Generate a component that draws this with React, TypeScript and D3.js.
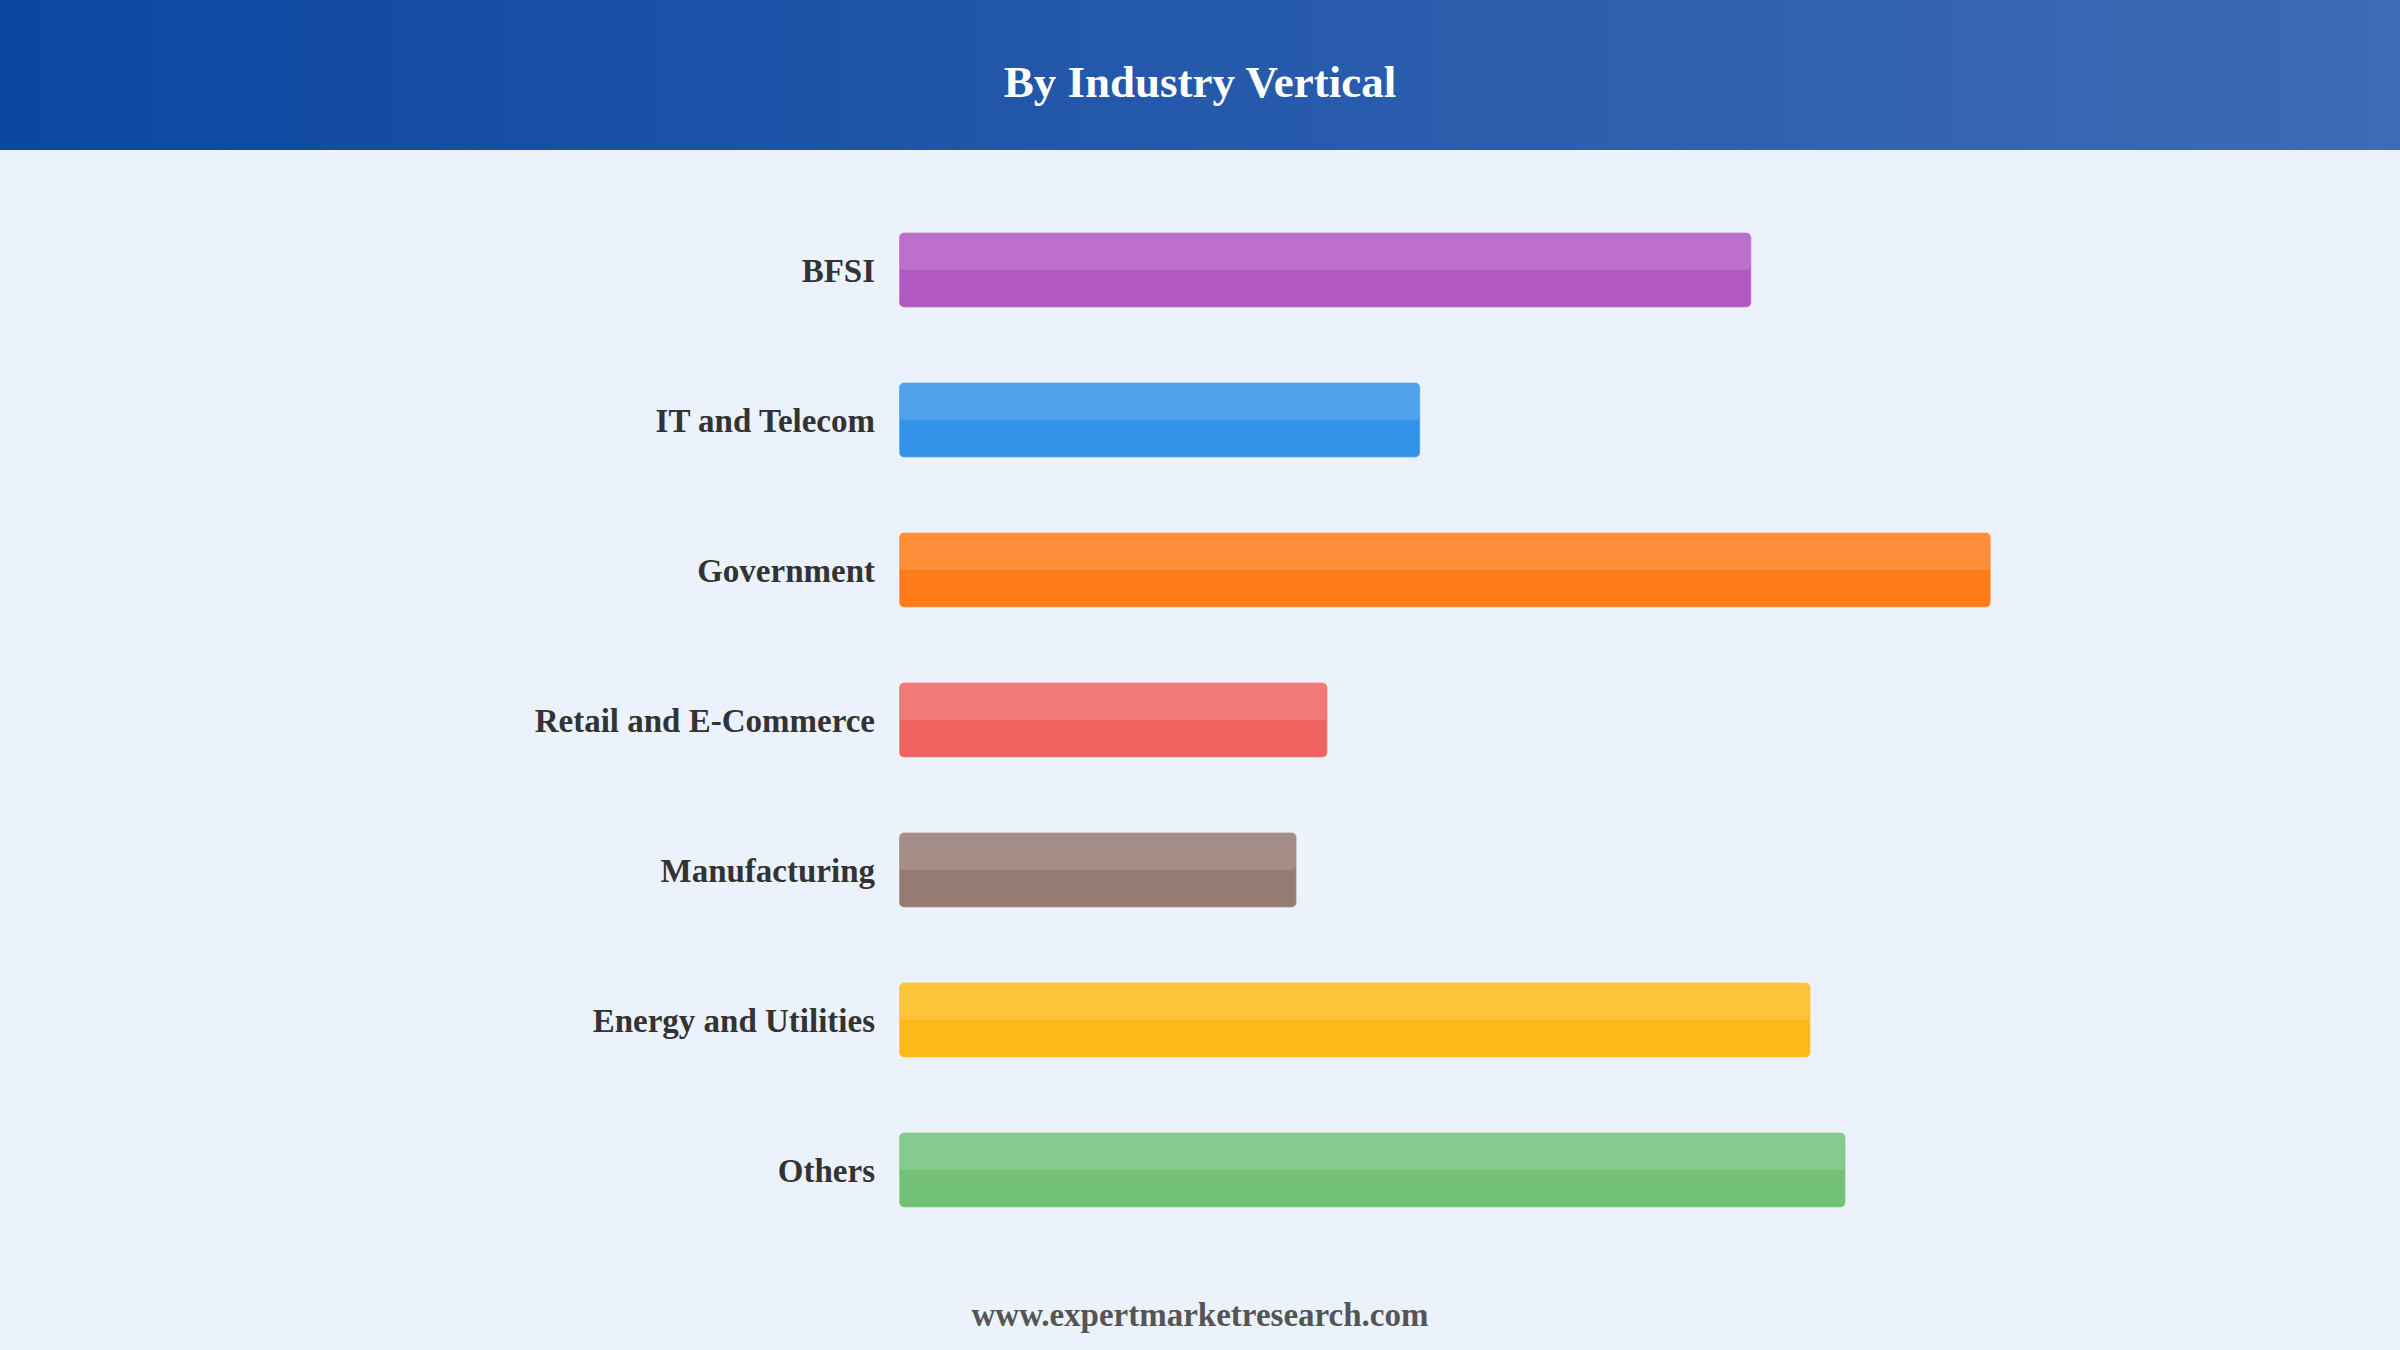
//@ts-nocheck
import React, {useEffect, useRef} from 'react';
import * as d3 from 'd3';

const categories = ['BFSI', 'IT and Telecom', 'Government', 'Retail and E-Commerce', 'Manufacturing', 'Energy and Utilities', 'Others'];
const shares = [16.55, 10.12, 21.2, 8.32, 7.72, 17.7, 18.38];
const barColors = ['#AB47BC', '#1E88E5', '#FF6F00', '#EF5350', '#8D6E63', '#FFB300', '#66BB6A'];

const TITLE = 'By Industry Vertical';
const SOURCE = 'www.expertmarketresearch.com';

const App: React.FC = () => {
    const svgRef = useRef<SVGSVGElement | null>(null);

    useEffect(() => {
        document.body.style.margin = '0';
        const width = 2400;
        const height = 1350;
        const svg = d3.select(svgRef.current);
        svg.selectAll('*').remove();
        svg.attr('width', width).attr('height', height);

        const defs = svg.append('defs');
        const grad = defs.append('linearGradient')
            .attr('id', 'hdr')
            .attr('x1', '0%').attr('x2', '100%')
            .attr('y1', '0%').attr('y2', '0%');
        grad.append('stop').attr('offset', '0%').attr('stop-color', '#0D47A1');
        grad.append('stop').attr('offset', '100%').attr('stop-color', '#3D6BB4');

        // background + header band
        svg.append('rect').attr('width', width).attr('height', height).attr('fill', '#EBF2FC');
        svg.append('rect').attr('width', width).attr('height', 150).attr('fill', 'url(#hdr)');

        svg.append('text')
            .attr('x', width / 2)
            .attr('y', 97)
            .attr('text-anchor', 'middle')
            .attr('font-family', '"Liberation Serif", "Times New Roman", serif')
            .attr('font-weight', 'bold')
            .attr('font-size', '45px')
            .attr('fill', '#FFFFFF')
            .text(TITLE);

        const left = 899;
        const right = 2100;
        const x = d3.scaleLinear()
            .domain([0, d3.max(shares) * 1.1])
            .range([left, right]);
        const y = d3.scaleBand()
            .domain(categories)
            .range([195, 1245])
            .paddingInner(0.5)
            .paddingOuter(0.25);

        const bh = y.bandwidth();
        const row = svg.selectAll('g.row')
            .data(categories)
            .enter().append('g')
            .attr('class', 'row')
            .attr('transform', function (d) { return 'translate(0,' + y(d) + ')'; });

        row.append('rect')
            .attr('x', left)
            .attr('width', function (d, i) { return x(shares[i]) - left; })
            .attr('height', bh)
            .attr('rx', 5)
            .attr('fill', function (d, i) { return barColors[i]; })
            .attr('fill-opacity', 0.9)
            .attr('stroke', '#FFFFFF')
            .attr('stroke-opacity', 0.35)
            .attr('stroke-width', 1.5);

        // lighter upper half
        row.append('rect')
            .attr('x', left + 1)
            .attr('y', 1)
            .attr('width', function (d, i) { return x(shares[i]) - left - 2; })
            .attr('height', bh / 2 - 1)
            .attr('rx', 4)
            .attr('fill', '#FFFFFF')
            .attr('fill-opacity', 0.15);

        row.append('text')
            .attr('x', left - 24)
            .attr('y', bh / 2 + 12)
            .attr('text-anchor', 'end')
            .attr('font-family', '"Liberation Serif", "Times New Roman", serif')
            .attr('font-weight', 'bold')
            .attr('font-size', '33px')
            .attr('fill', '#333333')
            .text(function (d) { return d; });

        svg.append('text')
            .attr('x', width / 2)
            .attr('y', 1326)
            .attr('text-anchor', 'middle')
            .attr('font-family', '"Liberation Serif", "Times New Roman", serif')
            .attr('font-weight', 'bold')
            .attr('font-size', '33px')
            .attr('fill', '#555555')
            .text(SOURCE);
    }, []);

    return (
        <svg style={{display: 'block'}} ref={svgRef}/>
    );
};

export default App;
